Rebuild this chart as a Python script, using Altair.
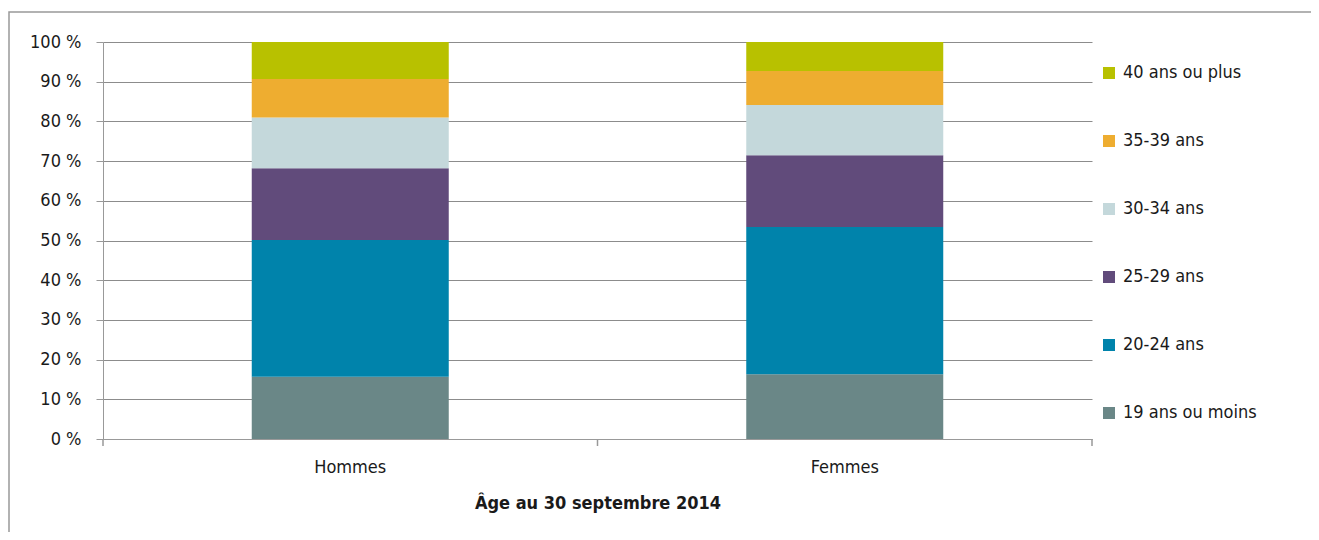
import altair as alt
import pandas as pd

sexes = ["Hommes", "Femmes"]
groups = ["19 ans ou moins", "20-24 ans", "25-29 ans", "30-34 ans", "35-39 ans", "40 ans ou plus"]
hommes = [15.7, 34.4, 18.1, 12.8, 9.7, 9.3]
femmes = [16.3, 37.1, 18.1, 12.6, 8.6, 7.3]
colors = ["#6A8787", "#0083AB", "#614B7B", "#C4D8DB", "#EEAD30", "#B8C100"]
y_ticks = [0, 10, 20, 30, 40, 50, 60, 70, 80, 90, 100]
x_tick_pos = [0, 1, 2]  # category boundaries (start, between, end)

rows = []
for s, vals in zip(sexes, [hommes, femmes]):
    for i, (g, v) in enumerate(zip(groups, vals)):
        rows.append({"sexe": s, "age": g, "pct": v, "idx": i})
df = pd.DataFrame(rows)

FONT = "'DejaVu Sans Condensed', 'Liberation Sans', sans-serif"
FS = 18

bars = alt.Chart(df).mark_bar(size=197).encode(
    x=alt.X("sexe:N", sort=sexes,
            scale=alt.Scale(paddingInner=0.6, paddingOuter=0.3),
            axis=alt.Axis(title="Âge au 30 septembre 2014", labelAngle=0,
                          ticks=False, domainColor="#999999", labelPadding=19,
                          labelFontSize=FS, titleFontSize=FS, titleFontWeight="bold",
                          titlePadding=18, labelColor="#1a1a1a", titleColor="#1a1a1a",
                          grid=False)),
    y=alt.Y("pct:Q", stack="zero",
            scale=alt.Scale(domain=[0, 100], nice=False),
            axis=alt.Axis(title=None, values=y_ticks,
                          labelExpr="datum.value + ' %'",
                          tickSize=7, tickColor="#999999", domainColor="#999999",
                          gridColor="#8c8c8c", gridWidth=1, labelPadding=15,
                          labelFontSize=FS, labelColor="#1a1a1a")),
    color=alt.Color("age:N",
                    scale=alt.Scale(domain=groups[::-1], range=colors[::-1]),
                    legend=alt.Legend(title=None, orient="none", legendX=997, legendY=22,
                                      symbolType="square", symbolSize=144,
                                      symbolStrokeWidth=0, labelFontSize=FS,
                                      labelColor="#1a1a1a", rowPadding=50,
                                      labelOffset=5, labelLimit=300)),
    order=alt.Order("idx:Q", sort="ascending"),
)

xticks = alt.Chart(pd.DataFrame({"t": x_tick_pos})).mark_rule(
    color="#999999", strokeWidth=1.5
).encode(
    x=alt.X("t:Q", scale=alt.Scale(domain=[0, 2], nice=False), axis=None),
    y=alt.value(397), y2=alt.value(404),
)

frame = alt.Chart(pd.DataFrame({"k": [0]})).mark_rect(
    fill="transparent", stroke="#999999", strokeWidth=1.5
).encode(
    x=alt.value(-94), x2=alt.value(1400), y=alt.value(-30), y2=alt.value(700)
)

chart = alt.layer(frame, bars, xticks).resolve_scale(x="independent").properties(
    width=989, height=397,
    autosize=alt.AutoSizeParams(type="none"),
    padding={"left": 95, "top": 34, "right": 219, "bottom": 93},
).configure(font=FONT).configure_view(stroke=None)

chart.save("out.html", embed_options={"renderer": "svg", "actions": False})
